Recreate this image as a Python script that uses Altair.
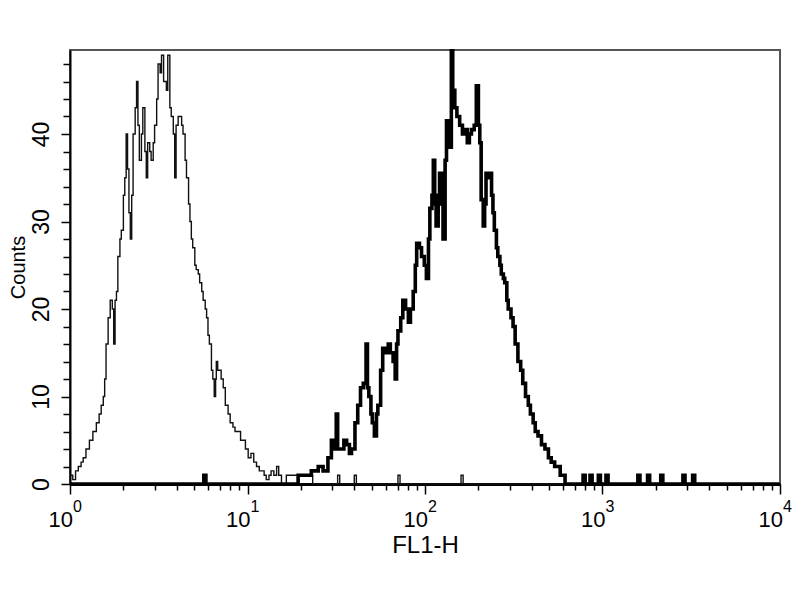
import altair as alt
import pandas as pd

# Histogram channels (0-1023, 4 decades log) and counts
thin_channel = [0, 4, 8, 12, 16, 19, 23, 28, 33, 38, 42, 45, 48, 50, 52, 55, 58, 61, 63, 65,
                67, 69, 72, 74, 77, 79, 81, 83, 85, 87, 89, 91, 94, 96, 98, 100, 103, 105, 108, 110,
                112, 115, 117, 120, 122, 125, 127, 130, 132, 135, 137, 139, 141, 144, 146, 149, 151, 153, 156, 158,
                161, 163, 166, 168, 171, 173, 175, 177, 180, 182, 185, 187, 190, 192, 195, 197, 199, 201, 204, 206,
                208, 210, 211, 213, 216, 218, 221, 224, 228, 231, 235, 238, 242, 246, 250, 253, 257, 261, 265, 269,
                273, 276, 280, 283, 287, 290, 294, 298, 301, 305, 312, 319, 330, 343, 350, 386, 389, 410, 413, 473,
                476, 564, 567, 1023]
thin_counts = [1, 0.5, 1.5, 2, 2.5, 3, 4, 5, 6, 7, 8, 9, 10, 12, 16, 19, 21, 20, 16, 21,
               22, 26, 28, 29, 33, 35, 40, 36, 31, 28, 33, 40, 43, 46, 41, 37, 40, 43, 38, 35,
               39, 38, 37, 39, 41, 44, 48, 47, 49, 46, 46, 45, 49, 43, 42, 40, 35, 41, 42, 42,
               41, 40, 37, 35, 32, 30, 28, 27, 25, 24.5, 24, 23, 22, 21, 20, 19, 17, 16, 13, 12,
               10, 12, 14, 13, 13, 12, 11, 9, 8, 7, 6.5, 6, 6, 5, 5, 4, 3, 3.5, 2.5, 2,
               1.5, 1.5, 1, 0.5, 1, 1.5, 1, 2, 1, 0, 1, 1, 1, 1, 0, 1, 0, 1, 0, 1,
               0, 1, 0, 0]

thick_channel = [0, 193, 196, 329, 340, 348, 358, 365, 372, 377, 380, 384, 386, 391, 395, 399, 403, 406, 411, 415,
                 419, 423, 427, 429, 431, 434, 436, 439, 442, 444, 448, 451, 455, 459, 462, 466, 469, 471, 473, 477,
                 480, 484, 488, 491, 495, 498, 500, 504, 507, 511, 514, 517, 519, 522, 524, 526, 528, 531, 533, 536,
                 538, 541, 543, 546, 548, 550, 552, 555, 558, 562, 566, 569, 573, 576, 579, 583, 586, 589, 591, 593,
                 596, 598, 600, 603, 605, 608, 610, 612, 615, 617, 620, 622, 625, 627, 630, 632, 636, 639, 642, 646,
                 650, 653, 657, 661, 664, 668, 671, 675, 680, 685, 690, 694, 699, 704, 707, 709, 714, 740, 743, 750,
                 753, 762, 765, 773, 776, 819, 822, 833, 836, 852, 855, 884, 887, 898, 901, 1023]
thick_counts = [0, 1, 0, 1, 1, 1.5, 2, 1.5, 3, 5, 4, 8, 4, 4, 5, 4.5, 3.5, 4, 7, 9,
                11, 11.5, 16, 11, 10, 8, 7, 5.5, 8, 9, 13, 15.5, 15, 16, 15, 14, 12, 16, 17.5, 19,
                21, 20, 18.5, 20, 22, 25, 27.5, 27, 26, 25, 23.5, 28, 31.5, 33, 37, 32, 29.5, 33, 35.5, 32,
                28, 37, 41.5, 40, 38.5, 49.5, 45, 43, 42, 41, 40, 40.5, 39, 40, 40.5, 41, 45.5, 41, 39, 32.5,
                29.5, 32, 35.5, 35, 35.5, 33, 31, 29, 27, 26, 25, 24, 23.5, 23, 21, 20, 19, 18, 16, 14,
                13, 11.5, 10, 9, 8, 7, 6, 5.5, 4.5, 4, 3, 2.5, 2, 2, 1, 1, 0, 1, 0, 1,
                0, 1, 0, 1, 0, 1, 0, 1, 0, 1, 0, 1, 0, 1, 0, 0]

x_decades = [1, 10, 100, 1000, 10000]
x_exponents = ["0", "1", "2", "3", "4"]
x_minor = [2, 3, 4, 5, 6, 7, 8, 9, 20, 30, 40, 50, 60, 70, 80, 90,
           200, 300, 400, 500, 600, 700, 800, 900, 2000, 3000, 4000, 5000, 6000, 7000, 8000, 9000]
y_ticks = [0, 2, 4, 6, 8, 10, 12, 14, 16, 18, 20, 22, 24, 26, 28, 30, 32, 34, 36, 38, 40, 42, 44, 46, 48]

FONT = "Liberation Sans, Arial, sans-serif"

thin = pd.DataFrame({"ch": thin_channel, "count": thin_counts})
thin["fl1"] = 10 ** (thin["ch"] / 256.0)
thick = pd.DataFrame({"ch": thick_channel, "count": thick_counts})
thick["fl1"] = 10 ** (thick["ch"] / 256.0)
labels = pd.DataFrame({"fl1": x_decades, "exp": x_exponents})

xscale = alt.Scale(type="log", domain=[1, 10000], nice=False)
major_test = "datum.value == 1 || datum.value == 10 || datum.value == 100 || datum.value == 1000 || datum.value == 10000"
xaxis = alt.Axis(
    values=x_decades + x_minor,
    labels=False,
    tickSize={"condition": {"test": major_test, "value": 10}, "value": 6},
    tickWidth=1.5,
    domainWidth=3,
    grid=False,
    title="FL1-H",
    titleY=68,
    titleBaseline="alphabetic",
    titleFontSize=24,
    titleFontWeight="normal",
)
yscale = alt.Scale(domain=[0, 49.6], nice=False, zero=True)
yaxis = alt.Axis(
    values=y_ticks,
    labelExpr="datum.value % 10 == 0 ? datum.label : ''",
    tickSize={"condition": {"test": "datum.value % 10 == 0", "value": 9}, "value": 7},
    tickWidth=1.5,
    domainWidth=2,
    grid=False,
    labelAngle=270,
    labelAlign="center",
    labelBaseline="alphabetic",
    labelPadding=13,
    labelFontSize=23,
    title="Counts",
    titleFontSize=20,
    titleFontWeight="normal",
    titleAngle=270,
    titleX=-46,
    titleBaseline="alphabetic",
)

thin_line = alt.Chart(thin).mark_line(interpolate="step-after", color="#111111", strokeWidth=1.4).encode(
    x=alt.X("fl1:Q", scale=xscale, axis=xaxis),
    y=alt.Y("count:Q", scale=yscale, axis=yaxis),
)
thick_line = alt.Chart(thick).mark_line(interpolate="step-after", color="black", strokeWidth=3.6).encode(
    x=alt.X("fl1:Q", scale=xscale, axis=xaxis),
    y=alt.Y("count:Q", scale=yscale, axis=yaxis),
)
tens = alt.Chart(labels).mark_text(text="10", align="right", baseline="alphabetic", dx=3,
                                   fontSize=22, font=FONT, color="black").encode(
    x=alt.X("fl1:Q", scale=xscale, axis=xaxis),
    y=alt.value(477),
)
exps = alt.Chart(labels).mark_text(align="left", baseline="alphabetic", dx=3,
                                   fontSize=16, font=FONT, color="black").encode(
    x=alt.X("fl1:Q", scale=xscale, axis=xaxis),
    y=alt.value(462),
    text=alt.Text("exp:N"),
)

chart = alt.layer(thin_line, thick_line, tens, exps).properties(
    width=710,
    height=434,
    autosize=alt.AutoSizeParams(type="none"),
    padding={"left": 62, "top": 42, "right": 12, "bottom": 80},
    background="white",
).configure_view(
    stroke="#555555", strokeWidth=2
).configure_axis(
    labelFont=FONT, titleFont=FONT, labelColor="black", titleColor="black",
    tickColor="black", domainColor="black",
)

chart.save("out.html", embed_options={"renderer": "svg", "actions": False})
